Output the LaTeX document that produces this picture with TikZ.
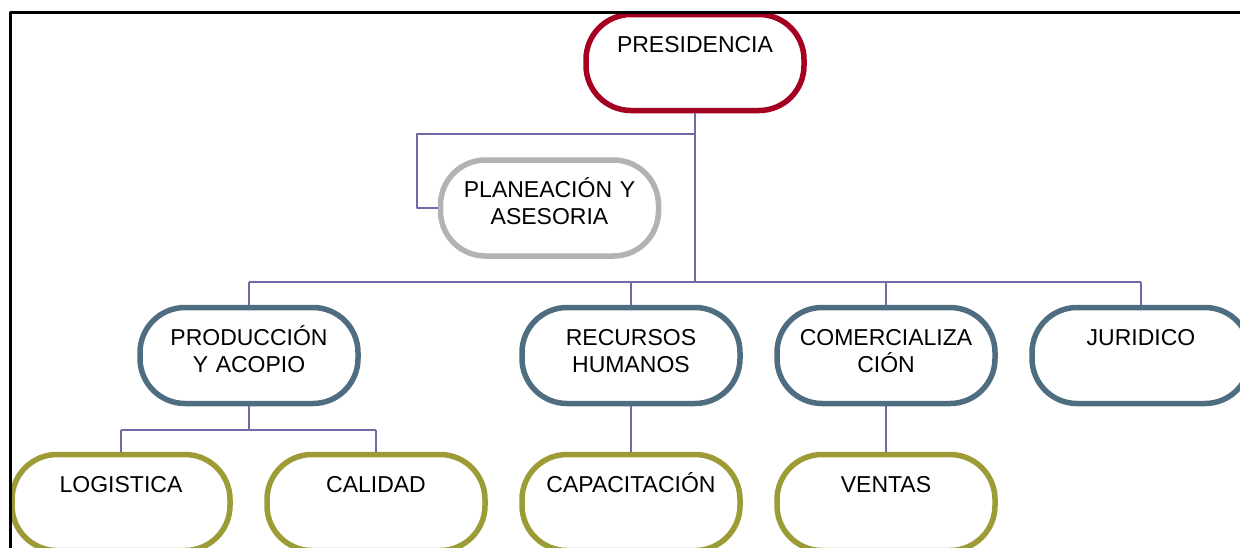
\documentclass[tikz,border=0pt]{standalone}
\usepackage{fontspec}
\setmainfont{Liberation Sans}
\definecolor{presred}{HTML}{A50021}
\definecolor{plangray}{HTML}{B2B2B2}
\definecolor{areablue}{HTML}{4E6D80}
\definecolor{subolive}{HTML}{9C9B36}
\definecolor{linkviolet}{HTML}{6E6BA8}
\begin{document}
\begin{tikzpicture}[x=0.5pt,y=-0.5pt, line join=round,
    unit/.style={draw, fill=white, line width=2.75pt, rounded corners=22.5pt,
        minimum width=109pt, minimum height=48pt, inner sep=0pt,
        text width=104pt, align=center, text height=9pt, text depth=19.5pt,
        font=\fontsize{11.5pt}{13.5pt}\selectfont},
    link/.style={draw=linkviolet, line width=0.75pt}]
    \useasboundingbox (0,0) rectangle (1240,547);
    \clip (0,0) rectangle (1240,547);
    % nodes
    \node[unit, draw=presred] (pres) at (695,62.5) {PRESIDENCIA};
    \node[unit, draw=plangray] (plan) at (549.5,208) {PLANEACIÓN Y\\ASESORIA};
    \node[unit, draw=areablue] (prod) at (249,355.5) {PRODUCCIÓN\\Y ACOPIO};
    \node[unit, draw=areablue] (rrhh) at (631,355.5) {RECURSOS\\HUMANOS};
    \node[unit, draw=areablue] (com) at (886,355.5) {COMERCIALIZA\\CIÓN};
    \node[unit, draw=areablue] (jur) at (1141,355.5) {JURIDICO};
    \node[unit, draw=subolive] (log) at (121,502.5) {LOGISTICA};
    \node[unit, draw=subolive] (cal) at (376,502.5) {CALIDAD};
    \node[unit, draw=subolive] (cap) at (631,502.5) {CAPACITACIÓN};
    \node[unit, draw=subolive] (ven) at (886,502.5) {VENTAS};
    % connectors
    \coordinate (staff) at (695,134);
    \coordinate (stafft) at (417,134);
    \coordinate (bus) at (695,282);
    \coordinate (prodbus) at (249,430);
    \draw[link] (pres.south) -- (bus);
    \draw[link] (staff) -- (stafft) |- (plan.west);
    \draw[link] (prod |- bus) -- (jur |- bus);
    \foreach \n in {prod,rrhh,com,jur}
        \draw[link] (\n |- bus) -- (\n.north);
    \draw[link] (prod.south) -- (prodbus);
    \draw[link] (log |- prodbus) -- (cal |- prodbus);
    \foreach \n in {log,cal}
        \draw[link] (\n |- prodbus) -- (\n.north);
    \draw[link] (rrhh.south) -- (cap.north);
    \draw[link] (com.south) -- (ven.north);
    % frame
    \draw[line width=1.75pt] (10.5,600) -- (10.5,12.5) -- (1300,12.5);
\end{tikzpicture}
\end{document}
